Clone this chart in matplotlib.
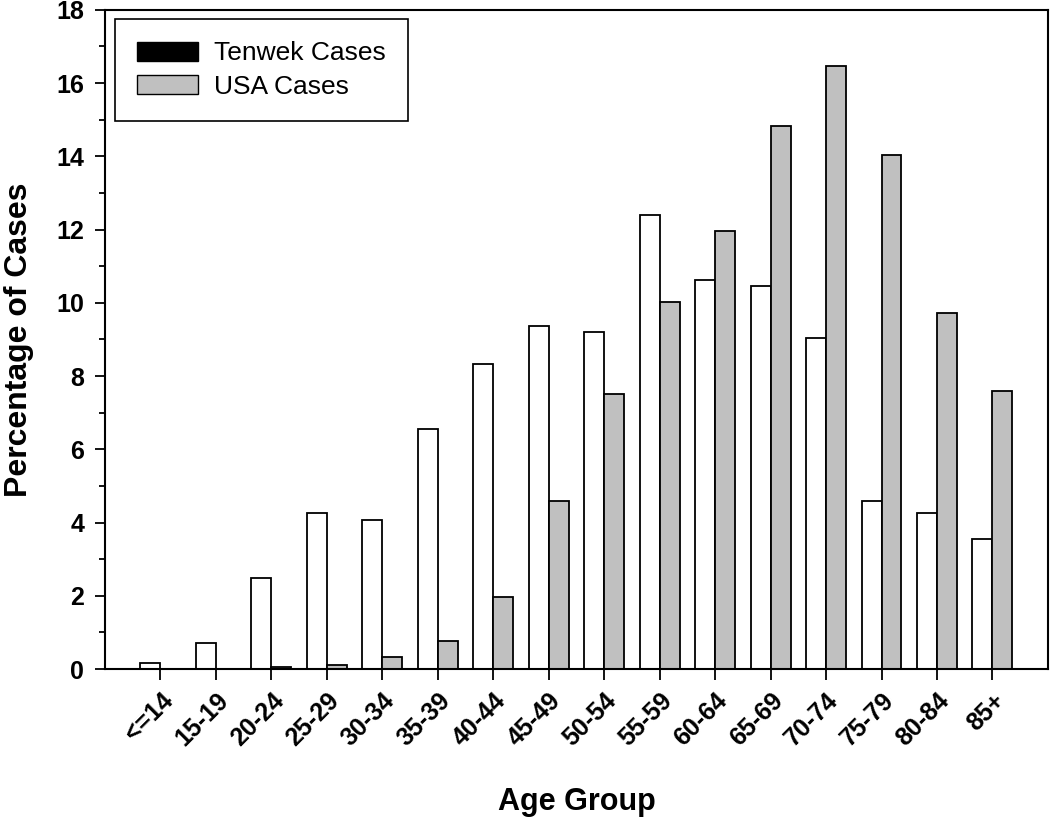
import numpy as np
import matplotlib
matplotlib.use("Agg")
import matplotlib.pyplot as plt
from matplotlib.patches import Patch

plt.rcParams["font.family"] = ["Liberation Sans", "DejaVu Sans"]

# age groups and percentages
age_groups = ["<=14", "15-19", "20-24", "25-29", "30-34", "35-39", "40-44", "45-49",
              "50-54", "55-59", "60-64", "65-69", "70-74", "75-79", "80-84", "85+"]
tenwek = [0.18, 0.72, 2.48, 4.25, 4.08, 6.55, 8.32, 9.38,
          9.2, 12.4, 10.62, 10.45, 9.03, 4.6, 4.25, 3.55]
usa = [0.0, 0.0, 0.06, 0.1, 0.33, 0.76, 1.96, 4.6,
       7.52, 10.02, 11.97, 14.84, 16.47, 14.04, 9.72, 7.6]

fig = plt.figure(figsize=(10.5, 8.18), dpi=100)
ax = fig.add_axes([0.1, 0.182, 0.898, 0.806])

x = np.arange(len(age_groups))
w = 0.36
ax.bar(x - w / 2, tenwek, w, color="white", edgecolor="black", linewidth=1.3)
ax.bar(x + w / 2, usa, w, color="#c0c0c0", edgecolor="black", linewidth=1.3)

ax.set_xlim(-1, 16)
ax.set_ylim(0, 18)
ax.set_yticks(np.arange(0, 19, 2))
ax.set_yticks(np.arange(1, 18, 2), minor=True)
ax.set_xticks(x)
ax.set_xticklabels(age_groups, rotation=45, ha="right", rotation_mode="anchor",
                   fontsize=18, fontweight="bold")
for lab in ax.get_yticklabels():
    lab.set_fontsize(18)
    lab.set_fontweight("bold")

ax.tick_params(axis="y", which="major", direction="out", length=7, width=1.3, pad=8)
ax.tick_params(axis="y", which="minor", direction="out", length=4.5, width=1.3)
ax.tick_params(axis="x", direction="out", length=8, width=1.3, pad=6)
for s in ax.spines.values():
    s.set_linewidth(1.5)

ax.set_xlabel("Age Group", fontsize=22, fontweight="bold", labelpad=26)
ax.set_ylabel("Percentage of Cases", fontsize=23, fontweight="bold", labelpad=16)

handles = [Patch(facecolor="black", edgecolor="black"),
           Patch(facecolor="#c0c0c0", edgecolor="black")]
leg = ax.legend(handles, ["Tenwek Cases", "USA Cases"], loc="upper left",
                bbox_to_anchor=(0.0106, 0.986), fontsize=19, frameon=True,
                fancybox=False, framealpha=1, handlelength=2.3, handleheight=0.75,
                borderpad=0.85, labelspacing=0.35, handletextpad=0.6,
                borderaxespad=0)
leg.get_frame().set_edgecolor("black")
leg.get_frame().set_linewidth(1.2)

fig.savefig("out.png", dpi=100)
